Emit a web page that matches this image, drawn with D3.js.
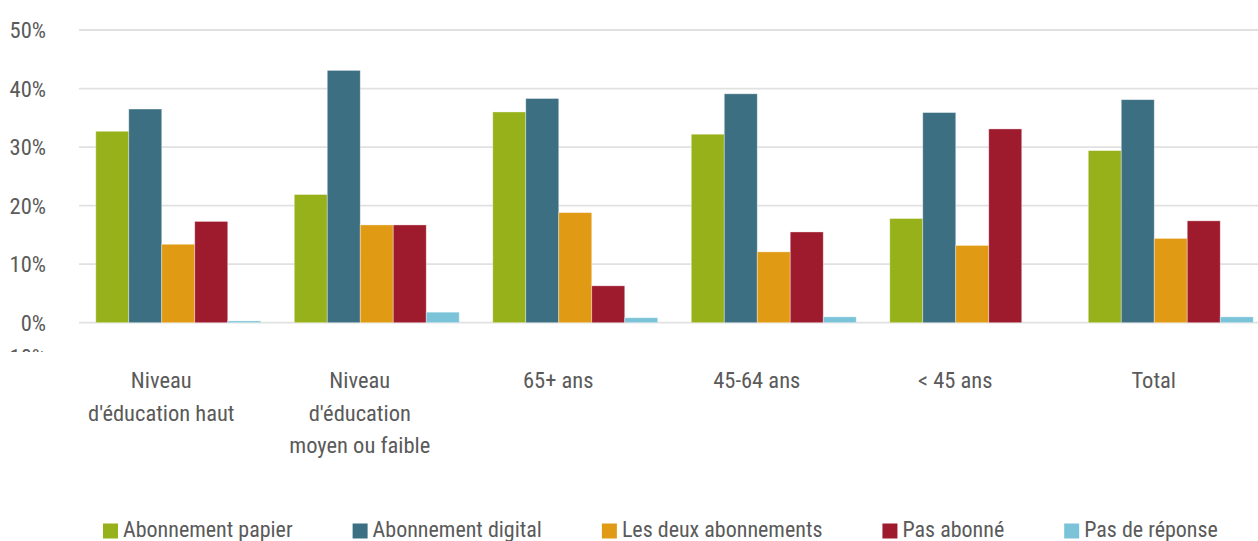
<!DOCTYPE html>
<html>
<head>
<meta charset="utf-8">
<script src="https://cdn.jsdelivr.net/npm/d3@7"></script>
<style>
  html, body { margin: 0; padding: 0; background: #fff; }
  svg text { font-family: "Liberation Sans Narrow", "Roboto Condensed", "DejaVu Sans Condensed", "Liberation Sans", sans-serif; fill: #5a5a5a; }
</style>
</head>
<body>
<svg id="chart" width="1258" height="541"></svg>
<script>
const categories = [
  ["Niveau", "d'éducation haut"],
  ["Niveau", "d'éducation", "moyen ou faible"],
  ["65+ ans"],
  ["45-64 ans"],
  ["< 45 ans"],
  ["Total"]
];
const seriesNames = ["Abonnement papier", "Abonnement digital", "Les deux abonnements", "Pas abonné", "Pas de réponse"];
const seriesColors = ["#97b11a", "#3d6f82", "#e09a14", "#9e1b2e", "#7bc3d8"];
const papier   = [32.7, 21.9, 36.0, 32.2, 17.8, 29.4];
const digital  = [36.5, 43.1, 38.3, 39.1, 35.9, 38.1];
const deux     = [13.4, 16.7, 18.8, 12.1, 13.2, 14.4];
const pasAbo   = [17.3, 16.7, 6.3, 15.5, 33.1, 17.4];
const pasRep   = [0.3, 1.8, 0.85, 1.0, 0.0, 1.0];
const yTicks = [0, 10, 20, 30, 40, 50];

const seriesValues = [papier, digital, deux, pasAbo, pasRep];
const catIdx = categories.map((c, i) => i);

const svg = d3.select("#chart");
const x0 = d3.scaleBand().domain(catIdx).range([79, 1270]).paddingInner(0.169).paddingOuter(0.0845);
const x1 = d3.scaleBand().domain(d3.range(seriesNames.length)).range([0, x0.bandwidth()]);
const y = d3.scaleLinear().domain([0, 50]).range([322.7, 30]);

// gridlines
svg.append("g").selectAll("line").data(yTicks).join("line")
  .attr("x1", 79).attr("x2", 1258)
  .attr("y1", d => y(d)).attr("y2", d => y(d))
  .attr("stroke", "#e1e1e1").attr("stroke-width", 1.8);

// y labels
svg.append("g").selectAll("text").data(yTicks).join("text")
  .attr("x", 46).attr("y", d => y(d)).attr("dy", "0.36em")
  .attr("text-anchor", "end").style("font-size", "22.5px")
  .text(d => d + "%");

// clipped fragment of a hidden tick label under 0%
const defs = svg.append("defs");
defs.append("clipPath").attr("id", "frag").append("rect").attr("x", 0).attr("y", 348).attr("width", 60).attr("height", 4);
svg.append("text").attr("clip-path", "url(#frag)")
  .attr("x", 46).attr("y", y(-5.8)).attr("dy", "0.36em")
  .attr("text-anchor", "end").style("font-size", "22.5px").text("-10%");

// bars
const groups = svg.append("g").selectAll("g").data(catIdx).join("g")
  .attr("transform", i => `translate(${x0(i)},0)`);
groups.selectAll("rect")
  .data(i => seriesValues.map((vals, s) => ({ s, v: vals[i] })))
  .join("rect")
  .attr("x", d => x1(d.s))
  .attr("width", x1.bandwidth())
  .attr("y", d => y(d.v))
  .attr("height", d => y(0) - y(d.v))
  .attr("fill", d => seriesColors[d.s])
  .attr("stroke", "rgba(255,255,255,0.45)")
  .attr("stroke-width", d => d.v > 0 ? 0.8 : 0);

// category labels
const labelOffset = -17;
const lab = svg.append("g").selectAll("text").data(catIdx).join("text")
  .attr("text-anchor", "middle").style("font-size", "22.5px")
  .attr("transform", i => `translate(${x0(i) + x0.bandwidth() / 2 + labelOffset},388)`);
lab.selectAll("tspan").data(i => categories[i]).join("tspan")
  .attr("x", 0).attr("y", (d, k) => k * 32.7)
  .text(d => d);

// legend
const legend = svg.append("g").attr("transform", "translate(103,531)");
let lx = 0;
seriesNames.forEach((name, s) => {
  const g = legend.append("g").attr("transform", `translate(${lx},0)`);
  g.append("rect").attr("x", 0).attr("y", -7.5).attr("width", 15).attr("height", 15).attr("fill", seriesColors[s]);
  const t = g.append("text").attr("x", 20).attr("y", 6).style("font-size", "22px").text(name);
  const w = t.node().getComputedTextLength();
  lx += 20 + w + 60;
});
</script>
</body>
</html>
